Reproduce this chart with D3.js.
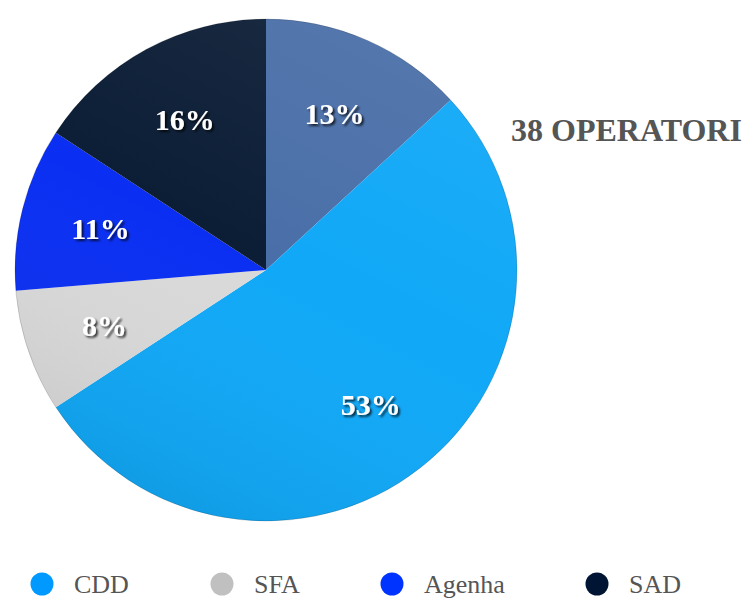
<!DOCTYPE html>
<html>
<head>
<meta charset="utf-8">
<script src="https://cdn.jsdelivr.net/npm/d3@7"></script>
<style>
body { margin: 0; background: #fff; }
svg { display: block; }
</style>
</head>
<body>
<div class="visHolder"></div>
<script>
// slices clockwise from 12 o'clock (operator counts out of 38)
var categories = ["", "CDD", "SFA", "Agenha", "SAD"]
var counts = [5, 20, 3, 4, 6]
var labels = ["13%", "53%", "8%", "11%", "16%"]
var sliceColors = ["#4a6fa8", "#10a8f7", "#d9d9d9", "#0a2ff2", "#0c1e36"]
var legendNames = ["CDD", "SFA", "Agenha", "SAD"]
var legendColors = ["#0099ff", "#c0c0c0", "#0033ff", "#001433"]

var width = 750
height = 599
cx = 266
cy = 270
radius = 251

var svg = d3.select('.visHolder')
    .append('svg')
    .attr('width', width)
    .attr('height', height)

var defs = svg.append('defs')

var shadow = defs.append('filter').attr('id', 'txtShadow')
    .attr('x', '-20%').attr('y', '-20%').attr('width', '140%').attr('height', '140%')
shadow.append('feDropShadow')
    .attr('dx', 2).attr('dy', 2).attr('stdDeviation', 1.2)
    .attr('flood-color', '#000').attr('flood-opacity', 0.75)

var shade = defs.append('linearGradient').attr('id', 'shade')
    .attr('x1', '0.8').attr('y1', '0').attr('x2', '0.3').attr('y2', '1')
shade.append('stop').attr('offset', '0%').attr('stop-color', '#fff').attr('stop-opacity', 0.06)
shade.append('stop').attr('offset', '50%').attr('stop-color', '#fff').attr('stop-opacity', 0)
shade.append('stop').attr('offset', '100%').attr('stop-color', '#000').attr('stop-opacity', 0.08)

var pie = d3.pie().sort(null).value(d => d)
var arcs = pie(counts)

var arc = d3.arc().innerRadius(0).outerRadius(radius)
var labelArc = d3.arc().innerRadius(radius * 0.68).outerRadius(radius * 0.68)

var g = svg.append('g').attr('transform', `translate(${cx},${cy})`)

g.selectAll('path.slice')
    .data(arcs)
    .enter()
    .append('path')
    .attr('class', 'slice')
    .attr('d', arc)
    .style('fill', (d, i) => sliceColors[i])

g.append('circle')
    .attr('r', radius)
    .style('fill', 'url(#shade)')
    .style('stroke', 'rgba(0,0,0,0.15)')
    .style('stroke-width', 1)

g.selectAll('text.pct')
    .data(arcs)
    .enter()
    .append('text')
    .attr('class', 'pct')
    .attr('transform', d => `translate(${labelArc.centroid(d)})`)
    .attr('text-anchor', 'middle')
    .attr('dy', '0.35em')
    .attr('filter', 'url(#txtShadow)')
    .style('font-family', '"Liberation Serif", "DejaVu Serif", serif')
    .style('font-weight', 'bold')
    .style('font-size', '30px')
    .style('fill', '#fff')
    .text((d, i) => labels[i])

svg.append('text')
    .attr('x', 511)
    .attr('y', 141)
    .style('font-family', '"Liberation Serif", serif')
    .style('font-weight', 'bold')
    .style('font-size', '32px')
    .style('fill', '#555')
    .text(counts.reduce((a, b) => a + b, 0) + ' OPERATORI')

var legendPos = {"CDD": 42, "SFA": 222, "Agenha": 392, "SAD": 597}

var lg = svg.append('g').selectAll('g')
    .data(legendNames)
    .enter()
    .append('g')
    .attr('transform', d => `translate(${legendPos[d]},584)`)

lg.append('circle')
    .attr('r', 11.5)
    .style('fill', (d, i) => legendColors[i])

lg.append('text')
    .attr('x', 32)
    .attr('dy', '0.33em')
    .style('font-family', '"Liberation Serif", serif')
    .style('font-size', '26px')
    .style('fill', '#555')
    .text(d => d)
</script>
</body>
</html>
